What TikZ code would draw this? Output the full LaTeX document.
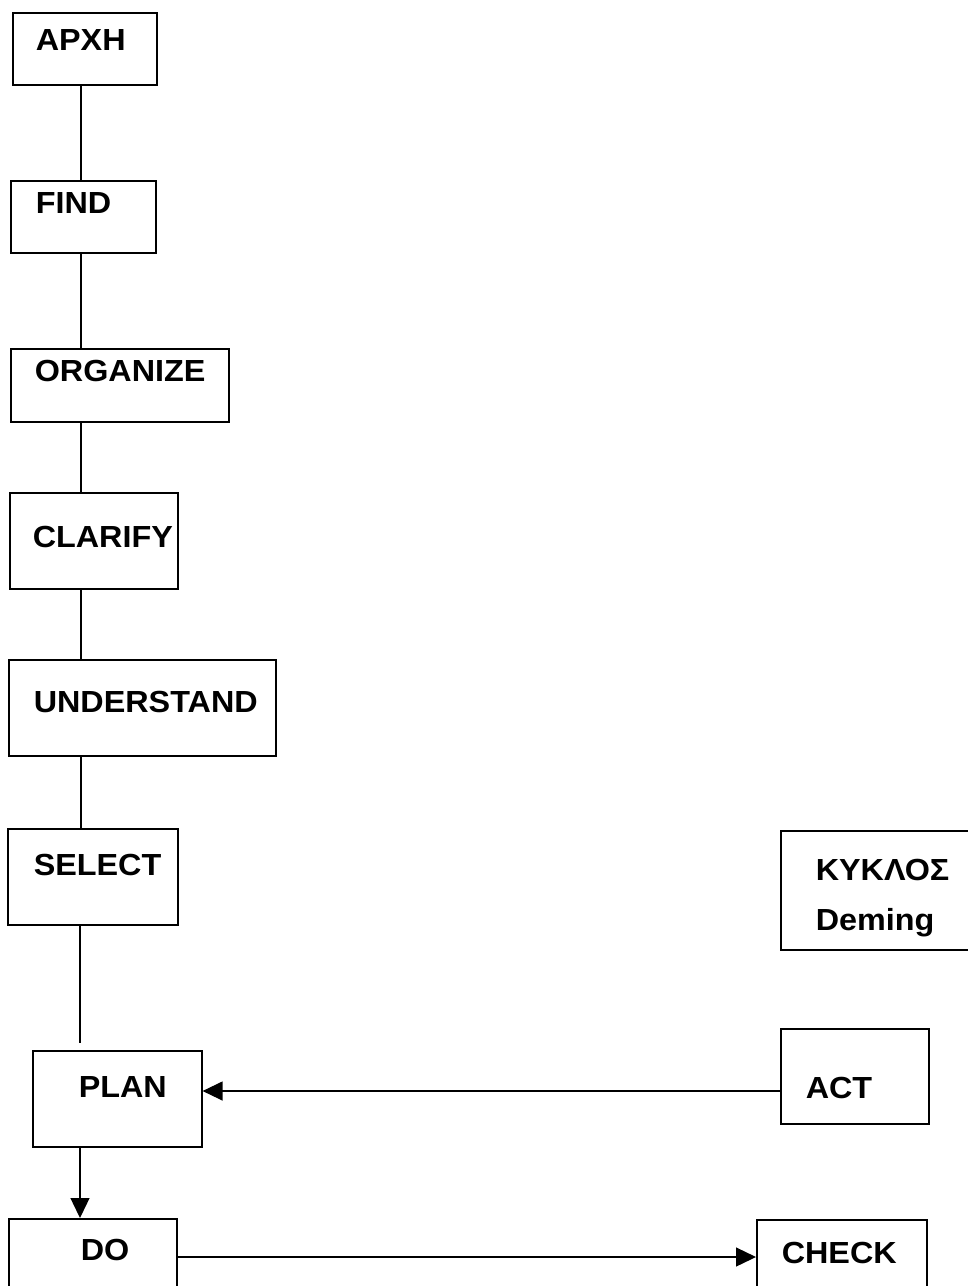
\documentclass[tikz,border=0pt]{standalone}
\usepackage{fontspec}
\setmainfont{Liberation Sans}[FakeStretch=1.06]
\usetikzlibrary{arrows.meta}

\begin{document}
\begin{tikzpicture}[x=1pt, y=-1pt,
  font=\fontsize{30.5}{36}\selectfont\bfseries,
  stepbox/.style n args={4}{draw, line width=1.6pt, anchor=north west, inner sep=0pt,
    align=left, text width=#1pt, text height=#2pt, text depth=#3pt,
    execute at begin node={\hspace*{#4pt}}},
  link/.style={line width=1.3pt},
  flow/.style={line width=1.3pt, -{Triangle[length=20pt, width=19pt]}}]

  % Page frame (the last boxes are cut off by the page edge)
  \clip (0,0) rectangle (968,1286);

  % Steps, top to bottom
  \node[stepbox={144}{38}{34}{23}] (arxi) at (12,12) {ΑΡΧΗ};
  \node[stepbox={145}{33}{39}{25}] (find) at (10,180) {FIND};
  \node[stepbox={218}{33}{40}{24}] (organize) at (10,348) {ORGANIZE};
  \node[stepbox={168}{55}{41}{23}] (clarify) at (9,492) {CLARIFY};
  \node[stepbox={267}{53}{43}{25}] (understand) at (8,659) {UNDERSTAND};
  \node[stepbox={170}{47}{49}{26}] (select) at (7,828) {SELECT};

  % Deming cycle
  \node[stepbox={200}{50}{69}{35}] (kyklos) at (780,830) {ΚΥΚΛΟΣ\\[14pt]\hspace*{35pt}Deming};
  \node[stepbox={169}{47}{49}{46}] (plan) at (32,1050) {PLAN};
  \node[stepbox={148}{70}{25}{25}] (act) at (780,1028) {ACT};
  \node[stepbox={168}{42}{54}{72}] (do) at (8,1218) {DO};
  \node[stepbox={170}{44}{52}{25}] (check) at (756,1219) {CHECK};

  % Helper coordinates for the connectors
  \coordinate (spine) at (81,0);
  \coordinate (selend) at (80,1043);
  \coordinate (actrow) at (0,1091);
  \coordinate (dorow) at (0,1257);

  % Vertical chain
  \draw[link] (arxi.south -| spine) -- (find.north -| spine);
  \draw[link] (find.south -| spine) -- (organize.north -| spine);
  \draw[link] (organize.south -| spine) -- (clarify.north -| spine);
  \draw[link] (clarify.south -| spine) -- (understand.north -| spine);
  \draw[link] (understand.south -| spine) -- (select.north -| spine);
  \draw[link] (select.south -| selend) -- (selend);

  % Arrows of the cycle
  \draw[flow] (plan.south -| selend) -- (do.north -| selend);
  \draw[flow] (do.east |- dorow) -- (check.west |- dorow);
  \draw[flow] (act.west |- actrow) -- (plan.east |- actrow);

\end{tikzpicture}
\end{document}
